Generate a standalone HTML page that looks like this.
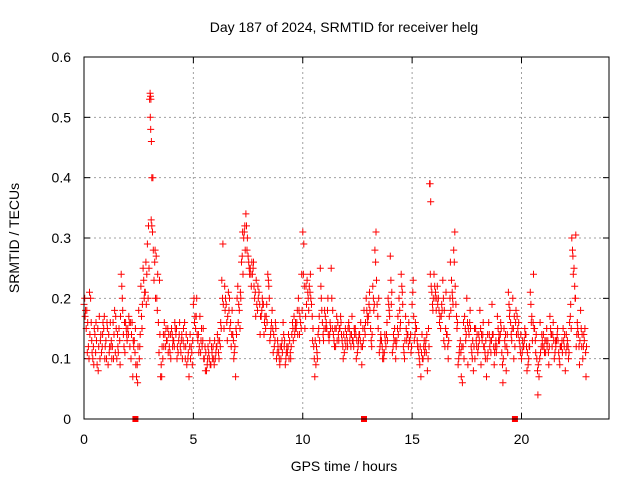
<!DOCTYPE html>
<html><head><meta charset="utf-8"><style>
html,body{margin:0;padding:0;background:#fff;}
svg{display:block;font-family:"Liberation Sans",sans-serif;}
</style></head><body>
<svg id="chart" width="640" height="480" viewBox="0 0 640 480">
<text x="344" y="32" font-size="14" text-anchor="middle">Day 187 of 2024, SRMTID for receiver helg</text>
<text x="19" y="238" font-size="14" text-anchor="middle" transform="rotate(-90 19 238)">SRMTID / TECUs</text>
<text x="344" y="471" font-size="14" text-anchor="middle">GPS time / hours</text>
<g id="grid"></g>
<g id="ticks"></g>
<g id="marks"></g>
<rect x="84" y="57" width="525" height="362" fill="none" stroke="#000" stroke-width="1"/>
</svg>
<script>
const xTicks=[0,5,10,15,20];
const yTicks=[0,0.1,0.2,0.3,0.4,0.5,0.6];
const yTickLabels=["0","0.1","0.2","0.3","0.4","0.5","0.6"];
const gapTimes=[2.35,12.8,19.7];
const seriesA=[0.19,0.15,0.12,0.2,0.1,0.14,0.09,0.17,0.11,0.15,0.13,0.09,0.16,0.12,0.18,0.1,0.15,0.24,0.14,0.16,0.15,0.12,0.16,0.13,0.07,0.18,0.22,0.25,0.21,0.29,0.53,0.32,0.23,0.27,0.16,0.07,0.1,0.14,0.13,0.12,0.15,0.13,0.14,0.11,0.12,0.1,0.16,0.09,0.07,0.12,0.19,0.15,0.13,0.17,0.12,0.1,0.08,0.11,0.09,0.12,0.1,0.14,0.13,0.23,0.15,0.19,0.21,0.16,0.14,0.12,0.2,0.18,0.26,0.3,0.34,0.27,0.25,0.24,0.2,0.19,0.21,0.17,0.19,0.15,0.24,0.13,0.18,0.12,0.1,0.11,0.1,0.16,0.09,0.11,0.13,0.14,0.17,0.15,0.2,0.16,0.31,0.15,0.23,0.22,0.19,0.12,0.09,0.14,0.25,0.16,0.18,0.15,0.13,0.25,0.14,0.12,0.16,0.15,0.13,0.11,0.14,0.16,0.12,0.13,0.15,0.11,0.14,0.09,0.18,0.2,0.17,0.15,0.22,0.28,0.19,0.11,0.13,0.1,0.12,0.2,0.27,0.11,0.15,0.13,0.2,0.24,0.12,0.17,0.14,0.13,0.19,0.13,0.15,0.11,0.07,0.1,0.12,0.08,0.39,0.21,0.24,0.18,0.2,0.15,0.23,0.12,0.14,0.17,0.23,0.28,0.19,0.09,0.13,0.06,0.17,0.2,0.14,0.12,0.08,0.15,0.11,0.18,0.13,0.12,0.07,0.16,0.11,0.14,0.12,0.17,0.13,0.11,0.15,0.08,0.21,0.16,0.2,0.12,0.17,0.13,0.1,0.12,0.14,0.09,0.21,0.13,0.15,0.1,0.07,0.12,0.14,0.11,0.13,0.17,0.12,0.1,0.13,0.11,0.12,0.15,0.08,0.13,0.16,0.3,0.25,0.12,0.14,0.18,0.1,0.15];
const seriesB=[0.17,0.11,0.21,0.13,0.09,0.16,0.08,0.13,0.14,0.1,0.16,0.11,0.13,0.1,0.17,0.12,0.09,0.2,0.16,0.14,0.17,0.1,0.13,0.15,0.06,0.12,0.15,0.2,0.19,0.32,0.48,0.4,0.28,0.18,0.23,0.07,0.12,0.15,0.11,0.14,0.12,0.16,0.1,0.14,0.13,0.15,0.12,0.1,0.14,0.09,0.16,0.2,0.11,0.13,0.15,0.08,0.1,0.13,0.11,0.09,0.12,0.11,0.16,0.29,0.18,0.13,0.2,0.14,0.1,0.15,0.16,0.21,0.31,0.32,0.28,0.25,0.22,0.26,0.17,0.22,0.14,0.2,0.16,0.19,0.22,0.15,0.11,0.16,0.13,0.09,0.13,0.12,0.11,0.14,0.1,0.15,0.15,0.18,0.14,0.24,0.29,0.22,0.2,0.24,0.13,0.07,0.11,0.17,0.2,0.13,0.15,0.2,0.16,0.15,0.12,0.17,0.13,0.16,0.1,0.15,0.12,0.13,0.17,0.15,0.1,0.13,0.16,0.15,0.14,0.17,0.21,0.12,0.18,0.31,0.15,0.13,0.1,0.14,0.16,0.18,0.19,0.14,0.1,0.17,0.15,0.21,0.1,0.13,0.16,0.11,0.23,0.16,0.12,0.09,0.14,0.13,0.11,0.15,0.36,0.18,0.2,0.22,0.16,0.19,0.13,0.21,0.1,0.26,0.2,0.31,0.15,0.11,0.07,0.16,0.13,0.09,0.18,0.1,0.15,0.12,0.14,0.09,0.16,0.1,0.14,0.12,0.19,0.09,0.11,0.13,0.16,0.06,0.12,0.14,0.17,0.13,0.1,0.18,0.14,0.11,0.13,0.15,0.08,0.12,0.16,0.24,0.11,0.04,0.16,0.13,0.11,0.15,0.09,0.14,0.16,0.13,0.15,0.09,0.13,0.12,0.14,0.1,0.19,0.27,0.2,0.16,0.09,0.12,0.14,0.07];
const seriesC=[0.2,0.18,0.1,0.16,0.12,0.11,0.15,0.1,0.12,0.17,0.1,0.14,0.12,0.16,0.11,0.14,0.13,0.22,0.12,0.15,0.14,0.16,0.07,0.11,0.09,0.1,0.17,0.23,0.26,0.2,0.5,0.31,0.26,0.2,0.11,0.09,0.14,0.12,0.15,0.11,0.14,0.12,0.15,0.13,0.11,0.13,0.1,0.13,0.12,0.11,0.2,0.17,0.14,0.11,0.13,0.12,0.09,0.1,0.12,0.1,0.11,0.13,0.12,0.2,0.22,0.16,0.18,0.12,0.13,0.07,0.22,0.15,0.27,0.31,0.32,0.26,0.24,0.25,0.21,0.18,0.19,0.18,0.14,0.17,0.23,0.14,0.15,0.13,0.11,0.1,0.12,0.14,0.1,0.12,0.11,0.16,0.14,0.16,0.18,0.15,0.24,0.17,0.21,0.21,0.17,0.1,0.12,0.15,0.22,0.14,0.17,0.18,0.14,0.2,0.13,0.15,0.14,0.17,0.12,0.13,0.13,0.15,0.14,0.12,0.14,0.12,0.13,0.12,0.15,0.18,0.19,0.13,0.2,0.26,0.17,0.12,0.12,0.11,0.14,0.19,0.23,0.12,0.13,0.15,0.18,0.22,0.11,0.15,0.12,0.14,0.21,0.14,0.13,0.1,0.11,0.12,0.13,0.1,0.24,0.19,0.22,0.2,0.18,0.17,0.2,0.15,0.12,0.2,0.21,0.26,0.17,0.1,0.11,0.12,0.15,0.16,0.16,0.11,0.12,0.13,0.12,0.15,0.14,0.11,0.1,0.14,0.13,0.12,0.13,0.15,0.14,0.09,0.13,0.12,0.19,0.14,0.15,0.16,0.15,0.12,0.11,0.13,0.12,0.1,0.19,0.16,0.13,0.08,0.1,0.14,0.12,0.13,0.11,0.15,0.14,0.11,0.14,0.1,0.12,0.13,0.11,0.12,0.17,0.28,0.22,0.14,0.12,0.15,0.12,0.11];
const seriesD=[0.18,0.16,0.14,0.11,0.15,0.13,0.12,0.14,0.16,0.12,0.15,0.12,0.1,0.14,0.15,0.11,0.17,0.18,0.11,0.13,0.16,0.14,0.12,0.09,0.12,0.14,0.19,0.21,0.24,0.25,0.33,0.28,0.2,0.24,0.14,0.12,0.16,0.13,0.14,0.1,0.13,0.15,0.12,0.16,0.14,0.12,0.14,0.11,0.1,0.13,0.17,0.14,0.12,0.15,0.1,0.11,0.12,0.09,0.1,0.13,0.12,0.1,0.15,0.19,0.2,0.17,0.15,0.18,0.11,0.14,0.19,0.2,0.24,0.28,0.3,0.24,0.26,0.22,0.23,0.2,0.17,0.19,0.17,0.16,0.2,0.16,0.14,0.15,0.12,0.12,0.11,0.13,0.12,0.1,0.12,0.13,0.16,0.14,0.17,0.18,0.22,0.19,0.18,0.2,0.15,0.13,0.1,0.13,0.18,0.15,0.16,0.14,0.15,0.18,0.15,0.13,0.15,0.14,0.14,0.12,0.15,0.14,0.13,0.14,0.13,0.14,0.12,0.13,0.16,0.16,0.18,0.14,0.19,0.23,0.2,0.14,0.11,0.13,0.13,0.17,0.21,0.13,0.12,0.14,0.16,0.19,0.13,0.14,0.13,0.12,0.17,0.15,0.12,0.12,0.1,0.11,0.14,0.12,0.22,0.2,0.21,0.19,0.17,0.18,0.18,0.14,0.13,0.18,0.19,0.22,0.16,0.12,0.12,0.1,0.14,0.15,0.15,0.13,0.1,0.14,0.13,0.14,0.12,0.13,0.11,0.13,0.14,0.11,0.12,0.14,0.15,0.1,0.14,0.11,0.18,0.15,0.17,0.14,0.16,0.14,0.12,0.14,0.11,0.12,0.17,0.15,0.14,0.09,0.11,0.12,0.13,0.12,0.12,0.14,0.13,0.12,0.13,0.12,0.11,0.14,0.12,0.11,0.15,0.24,0.2,0.15,0.13,0.14,0.13,0.12];
const spikeTimes=[3.02,3.04,3.06,3.08,3.1,15.82,22.48];
const spikeVals=[0.54,0.535,0.53,0.46,0.4,0.39,0.305];

const X0=84,X1=609,Y0=419,Y1=57;
const xs=t=>X0+(X1-X0)*t/24;
const ys=v=>Y0-(Y0-Y1)*v/0.6;
const NS="http://www.w3.org/2000/svg";
function mk(tag,attrs,parent){const e=document.createElementNS(NS,tag);for(const k in attrs)e.setAttribute(k,attrs[k]);parent.appendChild(e);return e;}
const grid=document.getElementById('grid'),ticks=document.getElementById('ticks'),marks=document.getElementById('marks');
xTicks.forEach(t=>{
  const x=xs(t);
  if(t>0){const g=mk('line',{x1:x,y1:Y0,x2:x,y2:Y1,stroke:'#a0a0a0','stroke-dasharray':'2,3'},grid);
  
  }
  mk('line',{x1:x,y1:Y0,x2:x,y2:Y0-6,stroke:'#000'},ticks);
  mk('line',{x1:x,y1:Y1,x2:x,y2:Y1+6,stroke:'#000'},ticks);
  const l=mk('text',{x:x,y:444,'font-size':14,'text-anchor':'middle'},ticks);l.textContent=t;
  
  
});
yTicks.forEach((v,i)=>{
  const y=ys(v);
  if(i>0&&i<yTicks.length-1){const g=mk('line',{x1:X0,y1:y,x2:X1,y2:y,stroke:'#a0a0a0','stroke-dasharray':'2,3'},grid);
  
  }
  mk('line',{x1:X0,y1:y,x2:X0+6,y2:y,stroke:'#000'},ticks);
  mk('line',{x1:X1,y1:y,x2:X1-6,y2:y,stroke:'#000'},ticks);
  const l=mk('text',{x:71,y:y+5,'font-size':14,'text-anchor':'end'},ticks);l.textContent=yTickLabels[i];
  
  
});
let d='';
function plus(t,v){const x=xs(t),y=ys(v);d+=`M${(x-3.5).toFixed(1)} ${y.toFixed(1)}h7M${x.toFixed(1)} ${(y-3.5).toFixed(1)}v7`;}
seriesA.forEach((v,i)=>plus(i*0.1,v));
seriesB.forEach((v,i)=>plus(i*0.1+0.05,v));
seriesC.forEach((v,i)=>plus(i*0.1+0.03,v));
seriesD.forEach((v,i)=>plus(i*0.1+0.07,v));
spikeTimes.forEach((t,i)=>plus(t,spikeVals[i]));
const p=mk('path',{d:d,stroke:'#ff0000','stroke-width':1,fill:'none'},marks);


gapTimes.forEach(t=>{
  const r=mk('rect',{x:xs(t)-3,y:Y0-3,width:6,height:6,fill:'#ff0000'},marks);
  
  
});
</script>
</body></html>
